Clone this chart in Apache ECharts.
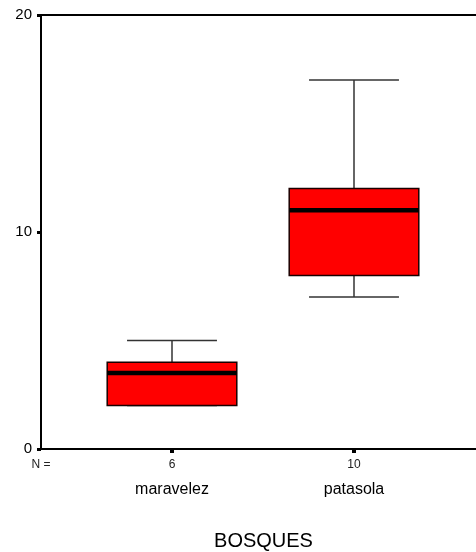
<!DOCTYPE html>
<html>
<head>
<meta charset="utf-8">
<script src="https://cdn.jsdelivr.net/npm/echarts@6/dist/echarts.min.js"></script>
<style>
  html, body { margin: 0; padding: 0; background: #fff; }
  #chart { width: 476px; height: 552px; }
</style>
</head>
<body>
<div id="chart"></div>
<script>
// Forest plots (BOSQUES): five-number summaries per site
const categories = ['maravelez', 'patasola'];
const counts = [6, 10];
const mins = [2, 7];
const q1s = [2, 8];
const medians = [3.5, 11];
const q3s = [4, 12];
const maxs = [5, 17];
const yTicks = [0, 10, 20];

const FONT = 'Liberation Sans, Arial, sans-serif';

const boxData = categories.map((c, i) => [i, mins[i], q1s[i], medians[i], q3s[i], maxs[i]]);

function renderBox(params, api) {
  const x = api.value(0);
  const band = api.size([1, 0])[0];
  const boxHalf = band * 0.356;
  const capHalf = band * 0.247;
  const pMin = api.coord([x, api.value(1)]);
  const pQ1 = api.coord([x, api.value(2)]);
  const pMed = api.coord([x, api.value(3)]);
  const pQ3 = api.coord([x, api.value(4)]);
  const pMax = api.coord([x, api.value(5)]);
  const cx = pMed[0];
  const whisker = { stroke: '#333', lineWidth: 1.5 };
  return {
    type: 'group',
    children: [
      { type: 'line', shape: { x1: cx, y1: pQ3[1], x2: cx, y2: pMax[1] }, style: whisker },
      { type: 'line', shape: { x1: cx - capHalf, y1: pMax[1], x2: cx + capHalf, y2: pMax[1] }, style: whisker },
      { type: 'line', shape: { x1: cx, y1: pQ1[1], x2: cx, y2: pMin[1] }, style: whisker },
      { type: 'line', shape: { x1: cx - capHalf, y1: pMin[1], x2: cx + capHalf, y2: pMin[1] }, style: whisker },
      {
        type: 'rect',
        shape: { x: cx - boxHalf, y: pQ3[1], width: boxHalf * 2, height: pQ1[1] - pQ3[1] },
        style: { fill: '#ff0000', stroke: '#1a0000', lineWidth: 1.5 }
      },
      {
        type: 'line',
        shape: { x1: cx - boxHalf, y1: pMed[1], x2: cx + boxHalf, y2: pMed[1] },
        style: { stroke: '#000', lineWidth: 4.5 }
      }
    ]
  };
}

const chart = echarts.init(document.getElementById('chart'), null, { renderer: 'canvas' });

chart.setOption({
  animation: false,
  backgroundColor: '#fff',
  textStyle: { fontFamily: FONT },
  grid: [
    // frame with the value axis; it runs on past the right edge of the canvas
    { left: 41, top: 15, right: -10, bottom: 103, outerBoundsMode: 'none', containLabel: false,
      show: true, borderColor: '#000', borderWidth: 2, backgroundColor: 'transparent' },
    // box positions
    { left: 81, top: 15, right: 31, bottom: 103, outerBoundsMode: 'none', containLabel: false }
  ],
  xAxis: [
    {
      gridIndex: 0, type: 'value', min: 0, max: 1, interval: 1,
      axisLine: { show: false }, axisTick: { show: false }, splitLine: { show: false },
      axisLabel: {
        margin: 10, fontSize: 12, color: '#222', fontFamily: FONT,
        formatter: v => (v === 0 ? 'N =' : '')
      },
      name: 'BOSQUES', nameLocation: 'middle', nameGap: 82,
      nameTextStyle: { fontSize: 20, color: '#000', fontFamily: FONT }
    },
    {
      gridIndex: 1, type: 'category', data: categories, boundaryGap: true,
      axisLine: { show: false },
      axisTick: { show: true, alignWithLabel: true, length: 4, lineStyle: { color: '#000', width: 4 } },
      axisLabel: {
        margin: 9, color: '#000', fontFamily: FONT,
        formatter: (value, idx) => '{n|' + counts[idx] + '}\n{c|' + value + '}',
        rich: {
          n: { fontSize: 12, lineHeight: 14, color: '#222', fontFamily: FONT },
          c: { fontSize: 16, lineHeight: 36, color: '#000', fontFamily: FONT }
        }
      }
    }
  ],
  yAxis: [
    {
      gridIndex: 0, type: 'value', min: yTicks[0], max: yTicks[yTicks.length - 1], interval: yTicks[1] - yTicks[0],
      axisLine: { show: false }, splitLine: { show: false },
      axisTick: { show: true, length: 4, lineStyle: { color: '#000', width: 3 } },
      axisLabel: { margin: 9, fontSize: 15, color: '#000', fontFamily: FONT }
    },
    {
      gridIndex: 1, type: 'value', min: yTicks[0], max: yTicks[yTicks.length - 1],
      show: false
    }
  ],
  series: [
    {
      type: 'custom',
      xAxisIndex: 1, yAxisIndex: 1,
      data: boxData,
      encode: { x: 0, y: [1, 2, 3, 4, 5] },
      renderItem: renderBox,
      z: 5
    }
  ]
});
</script>
</body>
</html>
